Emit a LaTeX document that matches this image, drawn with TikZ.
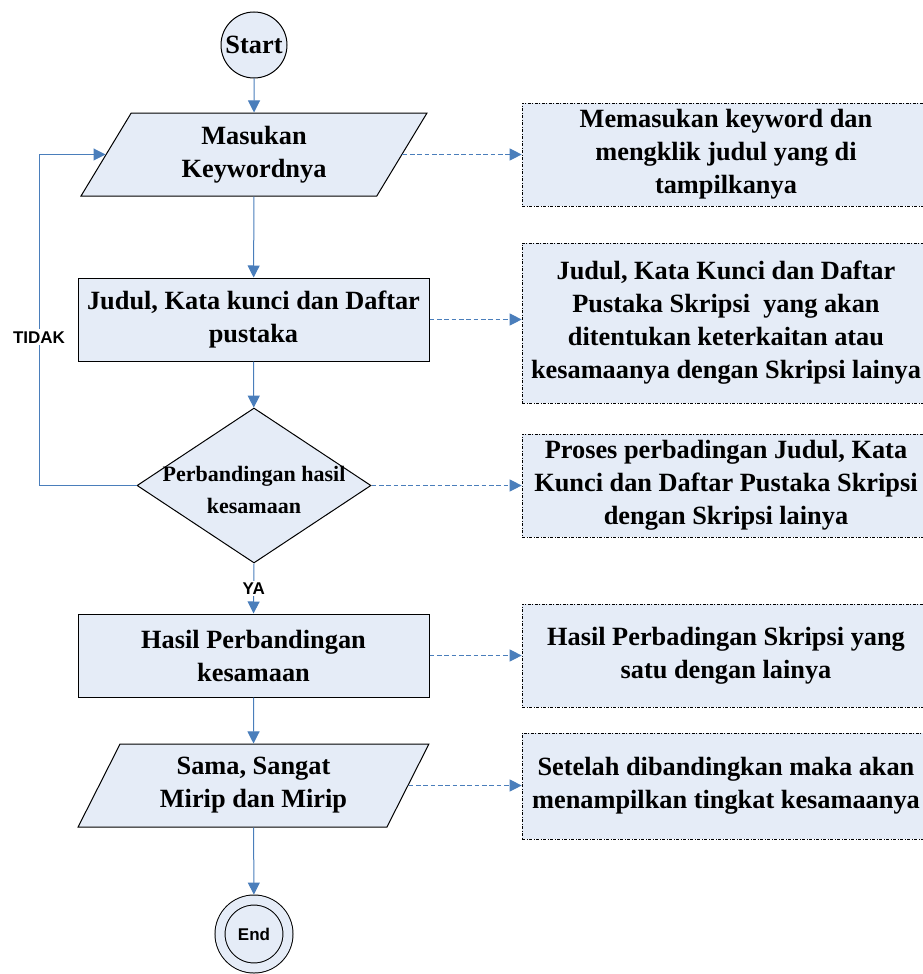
\documentclass[tikz,border=0pt]{standalone}
\usepackage{fontspec}
\setmainfont{Liberation Serif}
\newfontfamily\labelsans{Liberation Sans}
\usetikzlibrary{shapes.geometric,arrows.meta}
\definecolor{boxfill}{RGB}{229,236,247}
\definecolor{flowblue}{RGB}{74,126,187}
\newcommand\flowtxt{\bfseries\fontsize{19.75pt}{24.75pt}\selectfont}
\newcommand\decidetxt{\bfseries\fontsize{16.5pt}{24pt}\selectfont}
\newcommand\tagtxt{\labelsans\bfseries\fontsize{12.75pt}{15pt}\selectfont}

\begin{document}
\begin{tikzpicture}[x=0.75pt,y=-0.75pt,
  base/.style={draw=black,line width=0.75pt,fill=boxfill,align=center,font=\flowtxt},
  terminal/.style={base,circle,minimum size=49.5pt,inner sep=0pt},
  inout/.style={base,trapezium,trapezium left angle=65,trapezium right angle=115,
    trapezium stretches=true,minimum height=62.25pt,inner xsep=2pt},
  proc/.style={base,rectangle,minimum width=263.25pt,minimum height=62.25pt,inner xsep=2pt},
  decide/.style={base,diamond,minimum width=175.5pt,minimum height=116.25pt,inner sep=0pt},
  dectext/.style={align=center,font=\decidetxt,inner sep=0pt,yshift=-3pt},
  note/.style={base,line width=0.5pt,dash pattern=on 2.5pt off 1pt on 0.75pt off 1pt,
    minimum width=306pt,minimum height=77.25pt,inner sep=2pt},
  flow/.style={draw=flowblue,line width=0.75pt,-{Triangle[length=9pt,width=9pt]}},
  dflow/.style={flow,dash pattern=on 3.5pt off 2pt},
  tag/.style={font=\tagtxt,fill=white,inner sep=1.5pt}]
  \useasboundingbox (0,0) rectangle (923,974);
  \clip (0,0) rectangle (923,974);

  % main flow
  \node[terminal] (start) at (254,45) {Start};
  \node[inout,minimum width=259.5pt] (in1) at (254,154.5) {Masukan\\Keywordnya};
  \node[proc] (proc1) at (253.5,319.5) {Judul, Kata kunci dan Daftar\\pustaka};
  \node[decide,label={[dectext]center:Perbandingan hasil\\kesamaan}] (dec) at (254,485.5) {};
  \node[proc] (proc2) at (253.5,655.5) {Hasil Perbandingan\\kesamaan};
  \node[inout,minimum width=263.25pt] (out2) at (253.5,785.5) {Sama, Sangat\\Mirip dan Mirip};
  \node[base,circle,minimum size=51pt,inner sep=0pt,double=boxfill,double distance=6.75pt,
    outer sep=4.1pt,font=\tagtxt] (stop) at (254,934) {End};
  \coordinate (bend) at (39,485.5);

  % notes
  \node[note] (n1) at (726,154.5) {Memasukan keyword dan\\mengklik judul yang di\\tampilkanya};
  \node[note,minimum height=120pt] (n2) at (726,323) {Judul, Kata Kunci dan Daftar\\Pustaka Skripsi\ \ yang akan\\ditentukan keterkaitan atau\\kesamaanya dengan Skripsi lainya};
  \node[note] (n3) at (726,485.5) {Proses perbadingan Judul, Kata\\Kunci dan Daftar Pustaka Skripsi\\dengan Skripsi lainya};
  \node[note] (n4) at (726,655.5) {Hasil Perbadingan Skripsi yang\\satu dengan lainya};
  \node[note,minimum height=79.5pt] (n5) at (726,786) {Setelah dibandingkan maka akan\\menampilkan tingkat kesamaanya};

  % connectors
  \draw[flow] (start) -- (in1);
  \draw[flow] (in1) -- (proc1);
  \draw[flow] (proc1) -- (dec);
  \draw[flow] (dec.south) -- node[tag] {YA} (proc2.north);
  \draw[flow] (proc2) -- (out2);
  \draw[flow] (out2) -- (stop);
  \draw[flow] (dec.west) -- (bend) |- node[tag,pos=0.224] {TIDAK} (in1.west);

  \draw[dflow] (in1.east) -- (in1.east -| n1.west);
  \draw[dflow] (proc1.east) -- (proc1.east -| n2.west);
  \draw[dflow] (dec.east) -- (dec.east -| n3.west);
  \draw[dflow] (proc2.east) -- (proc2.east -| n4.west);
  \draw[dflow] (out2.east) -- (out2.east -| n5.west);
\end{tikzpicture}
\end{document}
